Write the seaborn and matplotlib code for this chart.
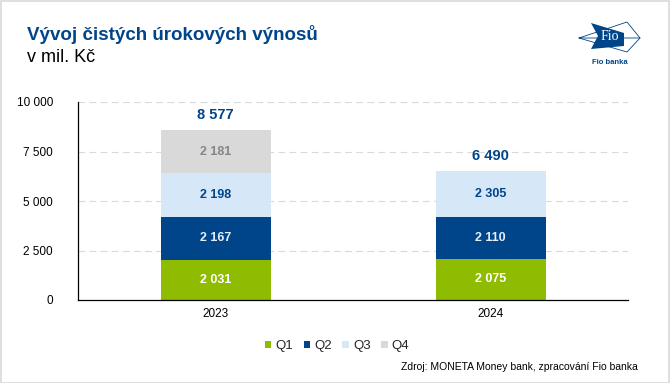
import matplotlib
matplotlib.use("Agg")
import matplotlib.pyplot as plt
import seaborn as sns
import numpy as np
import pandas as pd
from matplotlib.patches import Patch, Polygon, Rectangle
from matplotlib.lines import Line2D

years = ["2023", "2024"]
quarters = ["Q1", "Q2", "Q3", "Q4"]
q1 = [2031, 2075]
q2 = [2167, 2110]
q3 = [2198, 2305]
q4 = [2181, np.nan]
totals = [8577, 6490]
yticks = [0, 2500, 5000, 7500, 10000]

colors = {"Q1": "#8fbc00", "Q2": "#00448a", "Q3": "#d6e7f8", "Q4": "#d9d9d9"}
label_colors = {"Q1": "#ffffff", "Q2": "#e6effa", "Q3": "#00448a", "Q4": "#868686"}
navy = "#00448a"

sns.set_theme(style="white")
plt.rcParams["font.family"] = ["Liberation Sans", "DejaVu Sans"]

series = {"Q1": q1, "Q2": q2, "Q3": q3, "Q4": q4}
rows = []
for q in quarters:
    for i, y in enumerate(years):
        rows.append({"year": y, "quarter": q, "value": series[q][i]})
df = pd.DataFrame(rows)
df["cum"] = df.groupby("year")["value"].cumsum()
df.loc[df["value"].isna(), "cum"] = np.nan

fig = plt.figure(figsize=(6.7, 3.83), dpi=100)
ax = fig.add_axes([78 / 670, 1 - 300 / 383, (628 - 78) / 670, (300 - 102) / 383])

for q in reversed(quarters):
    sub = df[df["quarter"] == q].dropna()
    sns.barplot(data=sub, x="year", y="cum", order=years, color=colors[q],
                width=0.4, ax=ax, saturation=1, linewidth=0, errorbar=None)

# segment labels
for _, r in df.dropna().iterrows():
    xi = years.index(r["year"])
    ax.text(xi, r["cum"] - r["value"] / 2, f"{int(r['value']):,}".replace(",", " "),
            ha="center", va="center", fontsize=9, fontweight="bold",
            color=label_colors[r["quarter"]])

for i, t in enumerate(totals):
    ax.annotate(f"{t:,}".replace(",", " "), (i, t), xytext=(0, 11), textcoords="offset points",
                ha="center", va="center", fontsize=10.5, fontweight="bold", color=navy)

ax.set_xlim(-0.5, 1.5)
ax.set_ylim(0, 10000)
ax.set_yticks(yticks)
ax.set_yticklabels([f"{v:,}".replace(",", " ") for v in yticks], fontsize=8.5, color="#000000")
ax.tick_params(axis="x", labelsize=8.5, colors="#000000", length=0, pad=6)
ax.tick_params(axis="y", length=0, pad=18)
ax.set_xlabel("")
ax.set_ylabel("")
for yv in yticks[1:]:
    ax.axhline(yv, color="#d9d9d9", linestyle=(0, (6, 4)), linewidth=0.8, zorder=0)
for s in ["top", "right"]:
    ax.spines[s].set_visible(False)
ax.spines["left"].set_color("black")
ax.spines["bottom"].set_color("black")
ax.spines["left"].set_linewidth(0.9)
ax.spines["bottom"].set_linewidth(0.9)
ax.set_axisbelow(True)

# legend
handles = [Patch(facecolor=colors[q], edgecolor="none", label=q) for q in quarters]
fig.legend(handles=handles, loc="center", bbox_to_anchor=(337 / 670, 1 - 346 / 383), ncol=4,
           frameon=False, fontsize=9.5, handlelength=0.5, handleheight=0.5,
           handletextpad=0.3, columnspacing=0.8)

# titles
fig.text(27 / 670, 1 - 35 / 383, "Vývoj čistých úrokových výnosů", fontsize=13.5,
         fontweight="bold", color=navy, va="center", ha="left")
fig.text(27 / 670, 1 - 57 / 383, "v mil. Kč", fontsize=13, color="#000000", va="center", ha="left")
fig.text(638 / 670, 1 - 367 / 383, "Zdroj: MONETA Money bank, zpracování Fio banka", fontsize=7.5,
         color="#000000", ha="right", va="center")

# logo (approximation)
def fx(px):
    return px / 670
def fy(py):
    return 1 - py / 383
fig.patches.append(Polygon([(fx(591), fy(23)), (fx(624), fy(33)), (fx(624), fy(46)), (fx(591), fy(49)),
                            (fx(598), fy(36))], closed=True, transform=fig.transFigure,
                           facecolor=navy, edgecolor="none"))
fig.lines.append(Line2D([fx(579), fx(627), fx(640), fx(579)], [fy(38), fy(22), fy(38), fy(38)],
                        transform=fig.transFigure, color=navy, linewidth=0.6))
fig.lines.append(Line2D([fx(579), fx(627), fx(640)], [fy(38), fy(52), fy(38)],
                        transform=fig.transFigure, color=navy, linewidth=0.6))
fig.text(fx(610), fy(37), "Fio", fontsize=10, family=["Liberation Serif", "DejaVu Serif"],
         color="white", ha="center", va="center")
fig.text(fx(610), fy(62), "Fio banka", fontsize=5.5, fontweight="bold", color=navy,
         ha="center", va="center")

fig.patches.append(Rectangle((0.001, 0.001), 0.997, 0.997, transform=fig.transFigure,
                             fill=False, edgecolor="#d9d9d9", linewidth=1.2))

fig.savefig("out.png", dpi=100)
